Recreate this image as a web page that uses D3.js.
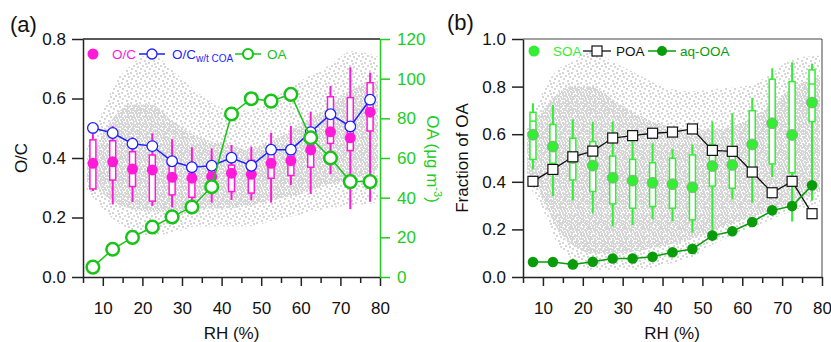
<!DOCTYPE html>
<html>
<head>
<meta charset="utf-8">
<script src="https://cdn.jsdelivr.net/npm/d3@7"></script>
<style>
body{margin:0;background:#fff;}
text{font-family:"Liberation Sans",Arial,sans-serif;}
</style>
</head>
<body>
<script>
// ---------- data ----------
const rhBins = [7.5,12.5,17.5,22.5,27.5,32.5,37.5,42.5,47.5,52.5,57.5,62.5,67.5,72.5,77.5];
const xTicks = [10,20,30,40,50,60,70,80];
const xMinorTicks = [5,15,25,35,45,55,65,75];
const ocTicks = [0,0.2,0.4,0.6,0.8];
const oaTicks = [0,20,40,60,80,100,120];
const fracTicks = [0,0.2,0.4,0.6,0.8,1.0];

// panel (a)
const ocMean = [0.382,0.387,0.363,0.360,0.335,0.332,0.337,0.349,0.345,0.382,0.391,0.427,0.488,0.468,0.554];
const ocWhiskerLow = [0.289,0.244,0.252,0.239,0.234,0.259,0.250,0.259,0.258,0.250,0.309,0.279,0.345,0.228,0.253];
const ocBoxLow = [0.296,0.326,0.304,0.255,0.276,0.268,0.300,0.287,0.282,0.332,0.341,0.369,0.449,0.425,0.491];
const ocBoxHigh = [0.461,0.458,0.421,0.410,0.373,0.348,0.371,0.376,0.392,0.427,0.429,0.455,0.606,0.603,0.653];
const ocWhiskerHigh = [0.481,0.508,0.470,0.483,0.463,0.436,0.432,0.444,0.438,0.485,0.508,0.556,0.642,0.705,0.687];
const ocWtCOA = [0.501,0.484,0.448,0.440,0.389,0.369,0.374,0.401,0.374,0.428,0.428,0.487,0.547,0.506,0.596];
const oaConc = [5,14,20,25.2,30.3,35.3,45.5,82.2,89.9,88.7,92.1,70.2,60,48.1,48.1];

// panel (b)
const soaMean = [0.598,0.548,0.500,0.468,0.417,0.405,0.396,0.390,0.377,0.466,0.471,0.557,0.646,0.597,0.733];
const soaMedian = [0.655,0.548,0.500,0.468,0.417,0.405,0.396,0.390,0.377,0.466,0.471,0.557,0.646,0.597,0.811];
const soaWhiskerLow = [0.452,0.340,0.321,0.267,0.212,0.218,0.242,0.235,0.186,0.179,0.326,0.312,0.419,0.233,0.321];
const soaBoxLow = [0.494,0.478,0.408,0.359,0.307,0.289,0.296,0.289,0.240,0.382,0.373,0.430,0.475,0.438,0.653];
const soaBoxHigh = [0.692,0.641,0.583,0.569,0.508,0.494,0.480,0.499,0.513,0.557,0.534,0.699,0.831,0.821,0.870];
const soaWhiskerHigh = [0.730,0.723,0.662,0.653,0.653,0.570,0.562,0.537,0.557,0.653,0.688,0.753,0.877,0.902,0.895];
const poaFrac = [0.402,0.452,0.505,0.529,0.584,0.594,0.604,0.609,0.622,0.532,0.528,0.441,0.354,0.402,0.266];
const aqOOAFrac = [0.063,0.063,0.053,0.064,0.078,0.078,0.085,0.104,0.118,0.174,0.192,0.231,0.280,0.298,0.385];

// background scatter envelopes (grey raw data clouds)
const cloudRH = [6,8,10,13,17,22,28,34,40,47,53,60,67,73,79.5];
const aOuterHi = [0.44,0.50,0.56,0.65,0.71,0.75,0.69,0.62,0.57,0.56,0.60,0.66,0.71,0.76,0.74];
const aOuterLo = [0.29,0.26,0.23,0.19,0.16,0.14,0.15,0.17,0.17,0.17,0.19,0.21,0.23,0.24,0.25];
const aCoreHi = [0.38,0.43,0.48,0.54,0.58,0.58,0.52,0.47,0.45,0.43,0.46,0.51,0.57,0.63,0.66];
const aCoreLo = [0.32,0.30,0.28,0.25,0.23,0.22,0.22,0.23,0.23,0.24,0.26,0.28,0.31,0.33,0.36];
const bOuterHi = [0.62,0.70,0.78,0.86,0.90,0.95,0.90,0.85,0.80,0.78,0.79,0.80,0.85,0.92,0.93];
const bOuterLo = [0.40,0.34,0.28,0.16,0.08,0.03,0.03,0.03,0.05,0.08,0.14,0.19,0.24,0.28,0.30];
const bCoreHi = [0.58,0.64,0.70,0.76,0.80,0.80,0.74,0.68,0.64,0.62,0.62,0.65,0.72,0.80,0.84];
const bCoreLo = [0.44,0.40,0.32,0.22,0.14,0.10,0.10,0.11,0.13,0.16,0.20,0.24,0.28,0.32,0.36];

// ---------- styles ----------
const C = {
  magenta:"#ff1ad9", blue:"#1f1fff", oa:"#19c419", axisGreen:"#22cc22",
  soa:"#33ee33", aq:"#089c08", cloud:"#d6d6d6"
};
const FS = 17;

const svg = d3.select("body").append("svg").attr("width",831).attr("height",342);
const defs = svg.append("defs");
// irregular texture tiles imitating the grey pixel scatter
const sparseDots = [[0,0],[4,2],[7,5],[2,6],[5,8],[1,3]];
const denseDots = [[0,0],[3,0],[1,2],[4,3],[0,4],[2,5],[5,5]];
const pSparse = defs.append("pattern").attr("id","sparse").attr("patternUnits","userSpaceOnUse").attr("width",9).attr("height",10);
pSparse.selectAll("rect").data(sparseDots).join("rect").attr("x",d=>d[0]).attr("y",d=>d[1]).attr("width",2).attr("height",2).attr("fill",C.cloud);
const pDense = defs.append("pattern").attr("id","dense").attr("patternUnits","userSpaceOnUse").attr("width",6).attr("height",7);
pDense.selectAll("rect").data(denseDots).join("rect").attr("x",d=>d[0]).attr("y",d=>d[1]).attr("width",2).attr("height",2).attr("fill",C.cloud);

// ---------- scales ----------
const xA = d3.scaleLinear().domain([5,80]).range([83,380]);
const yA = d3.scaleLinear().domain([0,0.8]).range([277,39]);
const yOA = d3.scaleLinear().domain([0,120]).range([277,39]);
const xB = d3.scaleLinear().domain([5,80]).range([523,822]);
const yB = d3.scaleLinear().domain([0,1]).range([277,39]);

function cloud(g, x, y, hi, lo, pat){
  const area = d3.area().x((d,i)=>x(cloudRH[i])).y0((d,i)=>y(lo[i])).y1((d,i)=>y(hi[i])).curve(d3.curveMonotoneX);
  g.append("path").attr("d", area(cloudRH)).attr("fill",`url(#${pat})`);
}

function boxes(g, x, y, wl, bl, bh, wh, color, med){
  rhBins.forEach((r,i)=>{
    g.append("line").attr("x1",x(r)).attr("x2",x(r)).attr("y1",y(wl[i])).attr("y2",y(wh[i]))
      .attr("stroke",color).attr("stroke-width",2);
    g.append("rect").attr("x",x(r)-3).attr("width",6).attr("y",y(bh[i])).attr("height",y(bl[i])-y(bh[i]))
      .attr("fill","#fff").attr("stroke",color).attr("stroke-width",1.5);
    if(med){
      g.append("line").attr("x1",x(r)-3).attr("x2",x(r)+3).attr("y1",y(med[i])).attr("y2",y(med[i]))
        .attr("stroke",color).attr("stroke-width",1.5);
    }
  });
}

function bottomAxis(g, x){
  g.append("g").attr("transform","translate(0,277)")
    .call(d3.axisBottom(x).tickValues(xMinorTicks).tickSize(6).tickFormat("").tickSizeOuter(0))
    .call(s=>s.select(".domain").remove())
    .call(s=>s.selectAll("line").attr("stroke","#222").attr("stroke-width",1.5));
  const ax = g.append("g").attr("transform","translate(0,277)")
    .call(d3.axisBottom(x).tickValues(xTicks).tickSize(9).tickPadding(16).tickSizeOuter(0));
  ax.select(".domain").attr("stroke","#222").attr("stroke-width",1.5);
  ax.selectAll("line").attr("stroke","#222").attr("stroke-width",1.5);
  ax.selectAll("text").attr("font-size",FS).attr("fill","#111").attr("font-family","Liberation Sans, Arial");
}

// ================= Panel (a) =================
const gA = svg.append("g");
cloud(gA, xA, yA, aOuterHi, aOuterLo, "sparse");
cloud(gA, xA, yA, aCoreHi, aCoreLo, "dense");

boxes(gA, xA, yA, ocWhiskerLow, ocBoxLow, ocBoxHigh, ocWhiskerHigh, C.magenta, null);
gA.selectAll(".ocdot").data(ocMean).join("circle").attr("class","ocdot")
  .attr("cx",(d,i)=>xA(rhBins[i])).attr("cy",d=>yA(d)).attr("r",5.5).attr("fill",C.magenta);

// blue O/C w/t COA
gA.append("path").attr("d", d3.line().x((d,i)=>xA(rhBins[i])).y(d=>yA(d))(ocWtCOA))
  .attr("fill","none").attr("stroke",C.blue).attr("stroke-width",1.5);
gA.selectAll(".bdot").data(ocWtCOA).join("circle").attr("class","bdot")
  .attr("cx",(d,i)=>xA(rhBins[i])).attr("cy",d=>yA(d)).attr("r",5.3)
  .attr("fill","#fff").attr("stroke",C.blue).attr("stroke-width",1.3);

// green OA
gA.append("path").attr("d", d3.line().x((d,i)=>xA(rhBins[i])).y(d=>yOA(d))(oaConc))
  .attr("fill","none").attr("stroke",C.oa).attr("stroke-width",1.5);
gA.selectAll(".gdot").data(oaConc).join("circle").attr("class","gdot")
  .attr("cx",(d,i)=>xA(rhBins[i])).attr("cy",d=>yOA(d)).attr("r",6.3)
  .attr("fill","#fff").attr("stroke",C.oa).attr("stroke-width",2.5);

// frame top
gA.append("line").attr("x1",83).attr("x2",380).attr("y1",39).attr("y2",39).attr("stroke","#222").attr("stroke-width",1.5);

// axes
bottomAxis(gA, xA);
const axL = gA.append("g").attr("transform","translate(83,0)")
  .call(d3.axisLeft(yA).tickValues(ocTicks).tickFormat(d3.format(".1f")).tickSize(11).tickPadding(6).tickSizeOuter(0));
axL.select(".domain").attr("stroke","#222").attr("stroke-width",1.5);
axL.selectAll("line").attr("stroke","#222").attr("stroke-width",1.5);
axL.selectAll("text").attr("font-size",FS).attr("fill","#111");

const axR = gA.append("g").attr("transform","translate(380,0)")
  .call(d3.axisRight(yOA).tickValues(oaTicks).tickSize(10).tickPadding(7).tickSizeOuter(0));
axR.select(".domain").attr("stroke",C.axisGreen).attr("stroke-width",1.5);
axR.selectAll("line").attr("stroke",C.axisGreen).attr("stroke-width",1.5);
axR.selectAll("text").attr("font-size",FS).attr("fill",C.axisGreen);

// titles
svg.append("text").attr("x",10).attr("y",32).attr("font-size",22).attr("fill","#111").text("(a)");
svg.append("text").attr("transform","translate(27,158) rotate(-90)").attr("text-anchor","middle")
  .attr("font-size",FS).attr("fill","#111").text("O/C");
svg.append("text").attr("x",231.5).attr("y",339).attr("text-anchor","middle")
  .attr("font-size",FS).attr("fill","#111").text("RH (%)");
const oaT = svg.append("text").attr("transform","translate(427,159) rotate(90)").attr("text-anchor","middle")
  .attr("font-size",FS).attr("fill",C.axisGreen);
oaT.append("tspan").text("OA (μg m");
oaT.append("tspan").attr("font-size",11).attr("dy",-7).text("-3");
oaT.append("tspan").attr("dy",7).text(")");

// legend (a)
const lA = svg.append("g");
lA.append("circle").attr("cx",93).attr("cy",54).attr("r",5.5).attr("fill",C.magenta);
lA.append("text").attr("x",112).attr("y",59).attr("font-size",13.5).attr("fill",C.magenta).text("O/C");
lA.append("line").attr("x1",139).attr("x2",165).attr("y1",54).attr("y2",54).attr("stroke",C.blue).attr("stroke-width",1.5);
lA.append("circle").attr("cx",152).attr("cy",54).attr("r",5).attr("fill","#fff").attr("stroke",C.blue).attr("stroke-width",1.3);
const tA = lA.append("text").attr("x",172).attr("y",59).attr("font-size",13.5).attr("fill",C.blue);
tA.append("tspan").text("O/C");
tA.append("tspan").attr("font-size",10).attr("dy",3).text("w/t COA");
lA.append("line").attr("x1",235).attr("x2",261).attr("y1",54).attr("y2",54).attr("stroke",C.oa).attr("stroke-width",1.5);
lA.append("circle").attr("cx",248).attr("cy",54).attr("r",5).attr("fill","#fff").attr("stroke",C.oa).attr("stroke-width",2.2);
lA.append("text").attr("x",267).attr("y",59).attr("font-size",13.5).attr("fill",C.oa).text("OA");

// ================= Panel (b) =================
const gB = svg.append("g");
cloud(gB, xB, yB, bOuterHi, bOuterLo, "sparse");
cloud(gB, xB, yB, bCoreHi, bCoreLo, "dense");

boxes(gB, xB, yB, soaWhiskerLow, soaBoxLow, soaBoxHigh, soaWhiskerHigh, C.soa, soaMedian);
gB.selectAll(".sdot").data(soaMean).join("circle").attr("class","sdot")
  .attr("cx",(d,i)=>xB(rhBins[i])).attr("cy",d=>yB(d)).attr("r",5.5)
  .attr("fill",C.soa).attr("stroke","#9a9a9a").attr("stroke-width",0.8);

gB.append("path").attr("d", d3.line().x((d,i)=>xB(rhBins[i])).y(d=>yB(d))(poaFrac))
  .attr("fill","none").attr("stroke","#111").attr("stroke-width",1.3);
gB.selectAll(".psq").data(poaFrac).join("rect").attr("class","psq")
  .attr("x",(d,i)=>xB(rhBins[i])-5).attr("y",d=>yB(d)-5).attr("width",10).attr("height",10)
  .attr("fill","#fff").attr("stroke","#111").attr("stroke-width",1.2);

gB.append("path").attr("d", d3.line().x((d,i)=>xB(rhBins[i])).y(d=>yB(d))(aqOOAFrac))
  .attr("fill","none").attr("stroke",C.aq).attr("stroke-width",1.5);
gB.selectAll(".adot").data(aqOOAFrac).join("circle").attr("class","adot")
  .attr("cx",(d,i)=>xB(rhBins[i])).attr("cy",d=>yB(d)).attr("r",5.3).attr("fill",C.aq);

// frame
gB.append("path").attr("d","M523,39H822V277").attr("fill","none").attr("stroke","#444").attr("stroke-width",1);

bottomAxis(gB, xB);
const axLB = gB.append("g").attr("transform","translate(523,0)")
  .call(d3.axisLeft(yB).tickValues(fracTicks).tickFormat(d3.format(".1f")).tickSize(11).tickPadding(6).tickSizeOuter(0));
axLB.select(".domain").attr("stroke","#222").attr("stroke-width",1.5);
axLB.selectAll("line").attr("stroke","#222").attr("stroke-width",1.5);
axLB.selectAll("text").attr("font-size",FS).attr("fill","#111");

svg.append("text").attr("x",447).attr("y",30).attr("font-size",22).attr("fill","#111").text("(b)");
svg.append("text").attr("transform","translate(468,158) rotate(-90)").attr("text-anchor","middle")
  .attr("font-size",FS).attr("fill","#111").text("Fraction of OA");
svg.append("text").attr("x",672).attr("y",339).attr("text-anchor","middle")
  .attr("font-size",FS).attr("fill","#111").text("RH (%)");

// legend (b)
const lB = svg.append("g");
lB.append("circle").attr("cx",534).attr("cy",51).attr("r",5.5).attr("fill",C.soa);
lB.append("text").attr("x",553).attr("y",56).attr("font-size",13.5).attr("fill",C.soa).text("SOA");
lB.append("line").attr("x1",583).attr("x2",611).attr("y1",51).attr("y2",51).attr("stroke","#111").attr("stroke-width",1.3);
lB.append("rect").attr("x",592).attr("y",46).attr("width",10).attr("height",10).attr("fill","#fff").attr("stroke","#111").attr("stroke-width",1.2);
lB.append("text").attr("x",616).attr("y",56).attr("font-size",13.5).attr("fill","#111").text("POA");
lB.append("line").attr("x1",648).attr("x2",676).attr("y1",51).attr("y2",51).attr("stroke",C.aq).attr("stroke-width",1.5);
lB.append("circle").attr("cx",662).attr("cy",51).attr("r",5).attr("fill",C.aq);
lB.append("text").attr("x",680).attr("y",56).attr("font-size",13.5).attr("fill",C.aq).text("aq-OOA");
</script>
</body>
</html>
